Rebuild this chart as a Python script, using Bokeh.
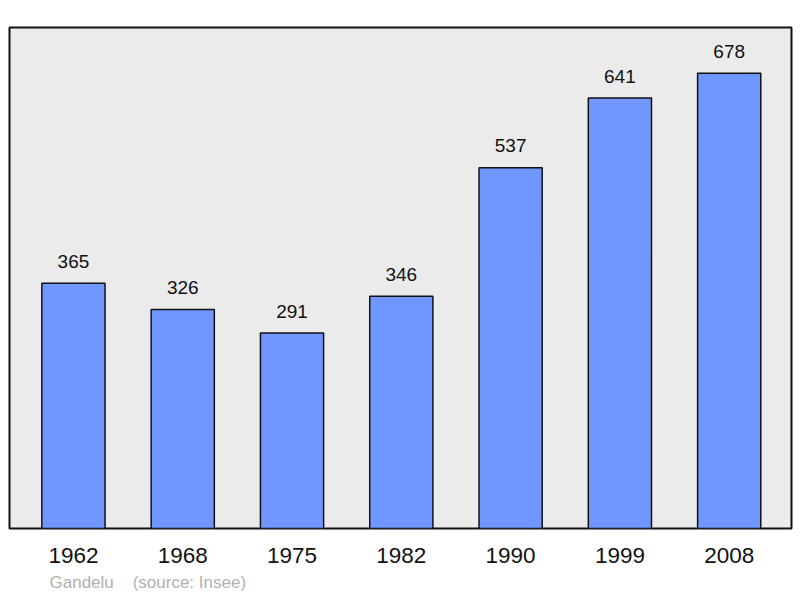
from bokeh.plotting import figure
from bokeh.models import ColumnDataSource, Range1d, FixedTicker, Title
from bokeh.core.properties import value
from bokeh.embed import file_html
from bokeh.resources import INLINE

years = ["1962", "1968", "1975", "1982", "1990", "1999", "2008"]
population = [365, 326, 291, 346, 537, 641, 678]
commune = "Gandelu"
source_note = "(source: Insee)"

xs = list(range(len(years)))
src = ColumnDataSource(dict(x=xs, top=population, label=[str(v) for v in population]))

p = figure(width=800, height=598, output_backend="svg", toolbar_location=None,
           x_range=Range1d(-0.585, 6.57), y_range=Range1d(0, 746),
           y_axis_location=None, min_border_left=9, min_border_right=9,
           min_border_top=27, min_border_bottom=70)
p.background_fill_color = "#ebebeb"
p.border_fill_color = "white"
p.outline_line_color = "#111111"
p.outline_line_width = 2
p.xgrid.visible = False
p.ygrid.visible = False

p.vbar(x="x", top="top", width=0.578, bottom=0, source=src,
       fill_color="#7097ff", line_color="#111111", line_width=1.5)
p.text(x="x", y="top", text="label", source=src, y_offset=-22,
       text_align="center", text_baseline="middle",
       text_font=value("Liberation Sans"), text_font_size="19px", text_color="#111111")

ax = p.xaxis[0]
ax.ticker = FixedTicker(ticks=xs)
ax.major_label_overrides = {i: y for i, y in enumerate(years)}
ax.axis_line_color = None
ax.major_tick_line_color = None
ax.minor_tick_line_color = None
ax.major_label_standoff = 13
ax.major_label_text_font = "Liberation Sans"
ax.major_label_text_font_size = "22.5px"
ax.major_label_text_color = "#111111"

footer = Title(text=commune + "\u00a0\u00a0\u00a0\u00a0" + source_note,
               align="left", offset=40, standoff=10,
               text_font="Liberation Sans", text_font_size="17px",
               text_font_style="normal", text_color="#b0b0b0")
p.add_layout(footer, "below")

open("out.html", "w").write(file_html(p, INLINE))
